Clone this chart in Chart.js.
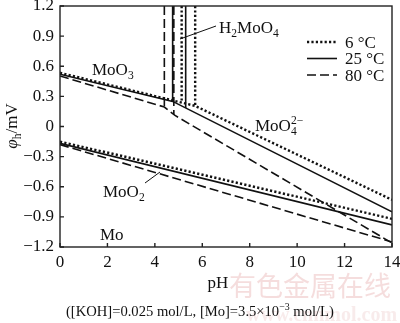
<!DOCTYPE html>
<html lang="en">
<head>
<meta charset="UTF-8">
<title>Mo–H2O potential–pH diagram</title>
<script src="https://cdn.jsdelivr.net/npm/chart.js"></script>
<style>
  body { margin: 0; background: #fff; }
  canvas { display: block; }
</style>
</head>
<body>
<canvas id="diagram" width="400" height="323"></canvas>
<script>
// MoO3 / H2MoO4 / MoO4(2-) against MoO2 boundaries (pH, potential)
const ph6Upper = [0, 5.7, 14];
const phi6Upper = [0.535, 0.205, -0.73];
const ph25Upper = [0, 4.75, 14];
const phi25Upper = [0.52, 0.25, -0.85];
const ph80Upper = [0, 4.4, 4.85, 14];
const phi80Upper = [0.503, 0.194, 0.11, -1.16];

// MoO2 / Mo boundaries
const phLower = [0, 14];
const phi6Lower = [-0.15, -0.92];
const phi25Lower = [-0.168, -0.98];
const phi80Lower = [-0.18, -1.15];

// vertical walls of the H2MoO4 field: pH of each wall and where it stops
const phiTop = 1.2;
const ph6Walls = [5.13, 5.7];
const phi6WallEnds = [0.237, 0.205];
const ph25Walls = [4.75, 5.3];
const phi25WallEnds = [0.25, 0.184];
const ph80Walls = [4.4, 4.8];
const phi80WallEnds = [0.194, 0.119];

const tempLabels = ['6 °C', '25 °C', '80 °C'];

const SERIF = '"Liberation Serif", "Times New Roman", serif';
const INK = '#111';

const looks = {
  dotted: { borderWidth: 2.4, borderDash: [2.2, 2.2] },
  solid:  { borderWidth: 1.6, borderDash: [] },
  dashed: { borderWidth: 1.6, borderDash: [9, 4] }
};
const legendLooks = ['dotted', 'solid', 'dashed'];

function line(xs, ys, look) {
  return Object.assign({
    data: xs.map((x, i) => ({ x: x, y: ys[i] })),
    showLine: true, pointRadius: 0, borderColor: INK, fill: false, tension: 0,
    borderCapStyle: 'butt'
  }, looks[look]);
}
function walls(xs, ends, look) {
  return xs.map((x, i) => line([x, x], [phiTop, ends[i]], look));
}

const datasets = [].concat(
  line(ph6Upper, phi6Upper, 'dotted'),
  line(ph25Upper, phi25Upper, 'solid'),
  line(ph80Upper, phi80Upper, 'dashed'),
  line(phLower, phi6Lower, 'dotted'),
  line(phLower, phi25Lower, 'solid'),
  line(phLower, phi80Lower, 'dashed'),
  walls(ph6Walls, phi6WallEnds, 'dotted'),
  walls(ph25Walls, phi25WallEnds, 'solid'),
  walls(ph80Walls, phi80WallEnds, 'dashed')
);

// text with sub/superscripts; each part is [text, shift, italic, stackedSub]
function rich(ctx, parts, x, y, size, measureOnly) {
  let cx = x;
  parts.forEach(p => {
    const t = p[0], s = p[1] || 0, it = p[2] ? 'italic ' : '';
    const fs = s ? size * 0.68 : size;
    ctx.font = it + fs + 'px ' + SERIF;
    const dy = s < 0 ? size * 0.24 : (s > 0 ? -size * 0.4 : 0);
    let w = ctx.measureText(t).width;
    if (!measureOnly) ctx.fillText(t, cx, y + dy);
    if (p[3]) {
      const w2 = ctx.measureText(p[3]).width;
      if (!measureOnly) ctx.fillText(p[3], cx, y + size * 0.24);
      w = Math.max(w, w2);
    }
    cx += w;
  });
  return cx - x;
}

// keep the plot box fixed: no extra room for overhanging end labels
function noOverhang(scale) {
  scale.paddingTop = 0;
  scale.paddingBottom = 0;
  scale.paddingLeft = 0;
  scale.paddingRight = 0;
}

const decorations = {
  id: 'decorations',
  afterDraw(chart) {
    const ctx = chart.ctx, a = chart.chartArea;
    const xs = chart.scales.x, ys = chart.scales.y;
    ctx.save();
    // frame and inward ticks
    ctx.strokeStyle = '#222';
    ctx.lineWidth = 1.4;
    ctx.setLineDash([]);
    ctx.strokeRect(a.left, a.top, a.right - a.left, a.bottom - a.top);
    ctx.beginPath();
    xs.ticks.forEach(t => {
      const px = xs.getPixelForValue(t.value);
      ctx.moveTo(px, a.bottom); ctx.lineTo(px, a.bottom - 4);
    });
    ys.ticks.forEach(t => {
      const py = ys.getPixelForValue(t.value);
      ctx.moveTo(a.left, py); ctx.lineTo(a.left + 4, py);
    });
    ctx.stroke();

    // legend
    ctx.fillStyle = INK;
    ctx.strokeStyle = INK;
    ctx.textBaseline = 'alphabetic';
    ctx.textAlign = 'left';
    legendLooks.forEach((k, i) => {
      const ly = 42 + i * 16.5;
      ctx.lineWidth = looks[k].borderWidth;
      ctx.setLineDash(looks[k].borderDash);
      ctx.beginPath();
      ctx.moveTo(307, ly); ctx.lineTo(337, ly);
      ctx.stroke();
      ctx.font = '17px ' + SERIF;
      ctx.fillText(tempLabels[i], 345, ly + 5.5);
    });
    ctx.setLineDash([]);

    // field names
    rich(ctx, [['MoO'], ['3', -1]], 92, 75, 17);
    rich(ctx, [['H'], ['2', -1], ['MoO'], ['4', -1]], 219, 33, 17);
    rich(ctx, [['MoO'], ['2\u2212', 1, false, '4']], 255, 131, 17);
    rich(ctx, [['MoO'], ['2', -1]], 103, 197, 17);
    rich(ctx, [['Mo']], 100, 240, 17);

    // leader lines
    ctx.lineWidth = 1;
    ctx.beginPath();
    ctx.moveTo(180, 39); ctx.lineTo(216, 26);
    ctx.moveTo(145, 183); ctx.lineTo(160, 172);
    ctx.stroke();

    // axis titles
    ctx.textAlign = 'center';
    ctx.font = '17px ' + SERIF;
    ctx.fillText('pH', 218, 288);
    ctx.textAlign = 'left';
    const yTitle = [['\u03c6', 0, true], ['h', -1], ['/mV']];
    const w = rich(ctx, yTitle, 0, 0, 17, true);
    ctx.save();
    ctx.translate(17, 126);
    ctx.rotate(-Math.PI / 2);
    rich(ctx, yTitle, -w / 2, 0, 17);
    ctx.restore();

    // watermark
    ctx.fillStyle = 'rgba(214, 120, 120, 0.25)';
    ctx.font = '27px "Noto Sans CJK SC", sans-serif';
    ctx.fillText('有色金属在线', 229, 296);
    ctx.fillStyle = 'rgba(214, 130, 130, 0.16)';
    ctx.font = 'bold 20px ' + SERIF;
    ctx.fillText('www.cnnmol.com', 246, 321);

    // conditions
    ctx.fillStyle = INK;
    rich(ctx, [['([KOH]=0.025 mol/L, [Mo]=3.5\u00d710'], ['\u22123', 1], [' mol/L)']], 66, 316, 14.6);
    ctx.restore();
  }
};

new Chart(document.getElementById('diagram'), {
  type: 'scatter',
  data: { datasets: datasets },
  options: {
    responsive: false,
    animation: false,
    layout: { padding: { top: 6, right: 8, left: 0, bottom: 0 } },
    plugins: { legend: { display: false }, tooltip: { enabled: false } },
    scales: {
      x: {
        type: 'linear', min: 0, max: 14,
        grid: { display: false, drawTicks: false },
        border: { display: false },
        ticks: { stepSize: 2, padding: 5, color: INK, font: { family: SERIF, size: 17 } },
        afterFit(scale) { scale.height = 76; noOverhang(scale); }
      },
      y: {
        type: 'linear', min: -1.2, max: 1.2,
        grid: { display: false, drawTicks: false },
        border: { display: false },
        ticks: {
          stepSize: 0.3, padding: 6, color: INK, font: { family: SERIF, size: 17 },
          callback(v) {
            const r = Math.round(v * 10) / 10;
            if (r === 0) return '0';
            return (r < 0 ? '\u2212' : '') + Math.abs(r).toFixed(1);
          }
        },
        afterFit(scale) { scale.width = 60; noOverhang(scale); }
      }
    }
  },
  plugins: [decorations]
});
</script>
</body>
</html>
